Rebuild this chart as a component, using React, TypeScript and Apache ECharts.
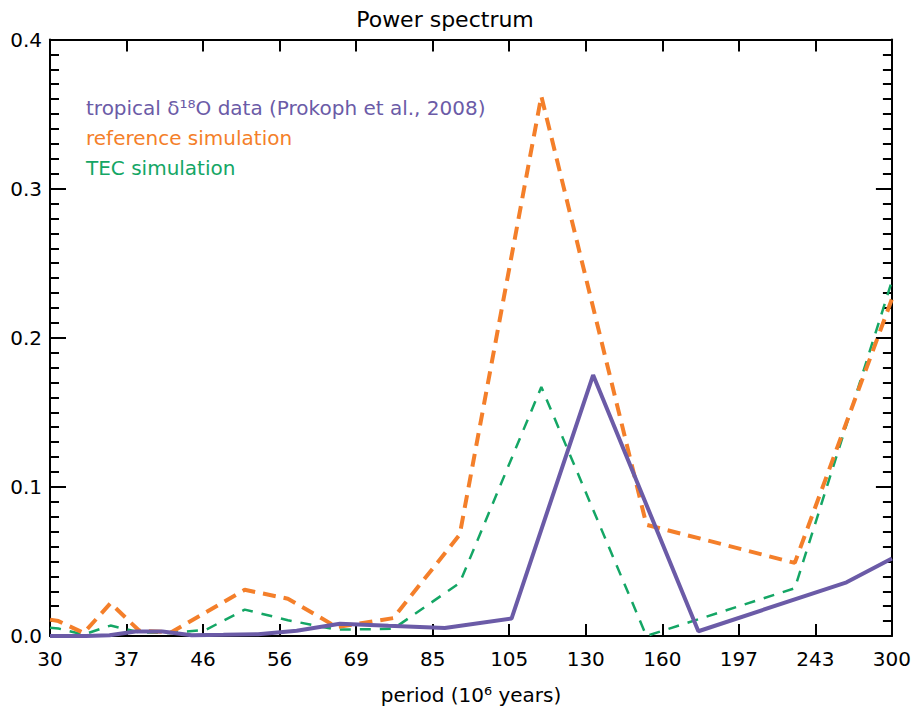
import React, { useEffect, useRef } from "react";
import * as echarts from "echarts";

// x tick labels (period, 10^6 years) — evenly spaced on a log scale from 30 to 300
const X_TICK_LABELS = ["30", "37", "46", "56", "69", "85", "105", "130", "160", "197", "243", "300"];
const X_MIN_PERIOD = 30;
const X_MAX_PERIOD = 300;

// tropical δ18O data (Prokoph et al., 2008)
const DATA_PERIODS = [30, 31.2, 33.1, 35.3, 37.9, 40.8, 44.2, 48.2, 53.0, 58.9, 66.3, 75.7, 88.3, 106, 132.5, 176.7, 265, 300];
const DATA_POWER = [0, 0, 0, 0.0005, 0.003, 0.003, 0.0005, 0.0008, 0.0012, 0.0035, 0.0082, 0.0068, 0.0053, 0.0117, 0.175, 0.0032, 0.036, 0.052];

// simulations
const SIM_PERIODS = [30, 30.7, 32.9, 35.4, 38.3, 41.8, 46.0, 51.1, 57.5, 65.7, 76.7, 92.0, 115, 153.3, 230, 300];
const REF_POWER = [0.011, 0.010, 0.002, 0.022, 0.0035, 0.0025, 0.016, 0.031, 0.025, 0.006, 0.012, 0.068, 0.362, 0.0746, 0.049, 0.226];
const TEC_POWER = [0.0055, 0.005, 0.001, 0.007, 0.0025, 0.002, 0.0043, 0.0177, 0.0106, 0.0043, 0.0048, 0.0356, 0.167, 0.0, 0.032, 0.238];

const SERIES_NAMES = ["tropical δ¹⁸O data (Prokoph et al., 2008)", "reference simulation", "TEC simulation"];

const PURPLE = "#6b5ba7";
const ORANGE = "#f47f2a";
const GREEN = "#14a665";
const FONT = "DejaVu Sans";

const N_INT = X_TICK_LABELS.length - 1;
const toU = (p: number) => (N_INT * Math.log10(p / X_MIN_PERIOD)) / Math.log10(X_MAX_PERIOD / X_MIN_PERIOD);
const pairs = (ps: number[], vs: number[]) => ps.map((p, i) => [toU(p), vs[i]]);

export default function App() {
  const ref = useRef<HTMLDivElement>(null);
  useEffect(() => {
    document.body.style.margin = "0";
    if (!ref.current) return;
    const chart = echarts.init(ref.current, undefined, { renderer: "svg" });
    const axisLine = { show: true, onZero: false, lineStyle: { color: "#000", width: 2 } };
    const xBase = {
      type: "value" as const,
      min: 0,
      max: N_INT,
      interval: 1,
      axisLine,
      splitLine: { show: false },
      axisTick: { show: true, inside: true, length: 12, lineStyle: { color: "#000", width: 2 } },
    };
    const yBase = {
      type: "value" as const,
      min: 0,
      max: 0.4,
      interval: 0.1,
      axisLine,
      splitLine: { show: false },
      axisTick: { show: true, inside: true, length: 16, lineStyle: { color: "#000", width: 2 } },
      minorTick: { show: true, splitNumber: 10, length: 9, lineStyle: { color: "#000", width: 2 } },
      minorSplitLine: { show: false },
    };
    chart.setOption({
      animation: false,
      backgroundColor: "#fff",
      textStyle: { fontFamily: FONT },
      grid: { left: 50, right: 22, top: 39.5, bottom: 73.5, containLabel: false },
      xAxis: [
        {
          ...xBase,
          position: "bottom",
          name: "period (10⁶ years)",
          nameLocation: "middle",
          nameGap: 49,
          nameTextStyle: { fontFamily: FONT, fontSize: 20, color: "#000" },
          axisLabel: {
            show: true,
            margin: 13,
            fontFamily: FONT,
            fontSize: 20,
            color: "#000",
            formatter: (v: number) => X_TICK_LABELS[Math.round(v)] ?? "",
          },
        },
        { ...xBase, position: "top", axisLabel: { show: false } },
      ],
      yAxis: [
        {
          ...yBase,
          position: "left",
          axisLabel: {
            show: true,
            margin: 8,
            fontFamily: FONT,
            fontSize: 20,
            color: "#000",
            formatter: (v: number) => v.toFixed(1),
          },
        },
        { ...yBase, position: "right", axisLabel: { show: false } },
      ],
      series: [
        {
          name: SERIES_NAMES[2],
          type: "line",
          data: pairs(SIM_PERIODS, TEC_POWER),
          showSymbol: false,
          symbol: "none",
          lineStyle: { color: GREEN, width: 2.5, type: [11, 9] },
          z: 2,
        },
        {
          name: SERIES_NAMES[1],
          type: "line",
          data: pairs(SIM_PERIODS, REF_POWER),
          showSymbol: false,
          symbol: "none",
          lineStyle: { color: ORANGE, width: 4, type: [13, 8] },
          z: 3,
        },
        {
          name: SERIES_NAMES[0],
          type: "line",
          data: pairs(DATA_PERIODS, DATA_POWER),
          showSymbol: false,
          symbol: "none",
          lineStyle: { color: PURPLE, width: 4 },
          z: 4,
        },
      ],
      graphic: [
        {
          type: "text",
          x: 445,
          y: 19.5,
          style: { text: "Power spectrum", fill: "#000", fontFamily: FONT, fontSize: 22, textAlign: "center", textVerticalAlign: "middle" },
        },
        {
          type: "text",
          x: 86,
          y: 108,
          style: { text: SERIES_NAMES[0], fill: PURPLE, fontFamily: FONT, fontSize: 20, textVerticalAlign: "middle" },
        },
        {
          type: "text",
          x: 86,
          y: 138,
          style: { text: SERIES_NAMES[1], fill: ORANGE, fontFamily: FONT, fontSize: 20, textVerticalAlign: "middle" },
        },
        {
          type: "text",
          x: 86,
          y: 168,
          style: { text: SERIES_NAMES[2], fill: GREEN, fontFamily: FONT, fontSize: 20, textVerticalAlign: "middle" },
        },
      ],
    });
    return () => chart.dispose();
  }, []);
  return <div ref={ref} style={{ width: 914, height: 710 }} />;
}
